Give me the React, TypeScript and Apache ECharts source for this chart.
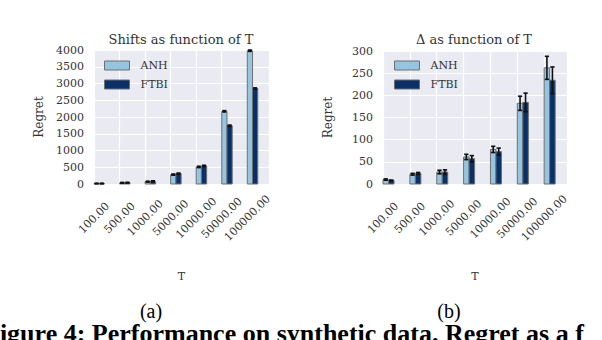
import React, { useEffect, useRef } from 'react';
import * as echarts from 'echarts';

const categories = ['100.00', '500.00', '1000.00', '5000.00', '10000.00', '50000.00', '100000.00'];
const seriesNames = ['ANH', 'FTBI'];

const shiftsANH = [15, 35, 70, 280, 510, 2170, 3980];
const shiftsANHErr = [10, 12, 15, 18, 20, 20, 20];
const shiftsFTBI = [15, 40, 80, 310, 540, 1740, 2850];
const shiftsFTBIErr = [10, 12, 15, 18, 20, 20, 20];

const deltaANH = [10, 22, 27, 61, 78, 182, 262];
const deltaANHErr = [1.5, 2, 4, 6, 7, 16, 26];
const deltaFTBI = [8, 24, 27, 57, 73, 184, 234];
const deltaFTBIErr = [1, 2, 5, 7, 8, 21, 30];

const titles = ['Shifts as function of T', 'Δ as function of T'];
const yMax = [4000, 300];
const yInterval = [500, 50];
const captions = ['(a)', '(b)'];
const figureCaption = 'Figure 4: Performance on synthetic data. Regret as a f';

const COLORS = ['#96c5e0', '#08306b'];
const BAR_W = 0.205;
const SERIF = 'DejaVu Serif';

function barRender(offset: number, color: string) {
  return (params: any, api: any) => {
    const x = api.value(0);
    const y = api.value(1);
    const p0 = api.coord([x + offset, y]);
    const p1 = api.coord([x + offset + BAR_W, 0]);
    return {
      type: 'rect',
      shape: { x: p0[0], y: p0[1], width: p1[0] - p0[0], height: p1[1] - p0[1] },
      style: { fill: color, stroke: '#6f6f6f', lineWidth: 1 },
    };
  };
}

function errRender(offset: number) {
  return (params: any, api: any) => {
    const x = api.value(0) + offset + BAR_W / 2;
    const y = api.value(1);
    const e = api.value(2);
    const top = api.coord([x, y + e]);
    const bot = api.coord([x, y - e]);
    const capL = api.coord([x - 0.08, y])[0];
    const capR = api.coord([x + 0.08, y])[0];
    const st = { stroke: '#111', lineWidth: 1.6 };
    return {
      type: 'group',
      children: [
        { type: 'line', shape: { x1: top[0], y1: top[1], x2: bot[0], y2: bot[1] }, style: st },
        { type: 'line', shape: { x1: capL, y1: top[1], x2: capR, y2: top[1] }, style: st },
        { type: 'line', shape: { x1: capL, y1: bot[1], x2: capR, y2: bot[1] }, style: st },
      ],
    };
  };
}

export default function App() {
  const ref = useRef<HTMLDivElement>(null);
  useEffect(() => {
    if (!ref.current) return;
    const chart = echarts.init(ref.current, null, { renderer: 'svg' });
    const grids = [
      { left: 94, top: 50, width: 175, height: 134 },
      { left: 383, top: 51, width: 184, height: 133 },
    ];
    const data = [
      [shiftsANH, shiftsANHErr, shiftsFTBI, shiftsFTBIErr],
      [deltaANH, deltaANHErr, deltaFTBI, deltaFTBIErr],
    ];
    const xAxis: any[] = [];
    const yAxis: any[] = [];
    const series: any[] = [];
    const legends: any[] = [];
    const graphics: any[] = [];
    const titleX = [181, 474];
    const legendX = [104, 394];
    for (let g = 0; g < 2; g++) {
      xAxis.push({
        type: 'value',
        gridIndex: g,
        min: 0,
        max: 6.85,
        interval: 1,
        name: 'T',
        nameLocation: 'middle',
        nameGap: 87,
        nameTextStyle: { fontFamily: SERIF, fontSize: 11, color: '#333' },
        axisLine: { show: false },
        axisTick: { show: false },
        splitLine: { show: true, lineStyle: { color: '#ffffff', width: 1.2 } },
        axisLabel: {
          rotate: 45,
          align: 'center',
          verticalAlign: 'middle',
          margin: 34,
          fontFamily: SERIF,
          fontSize: 11,
          color: '#333',
          showMaxLabel: false,
          formatter: (v: number) => {
            const i = Math.round(v);
            return Math.abs(v - i) < 1e-6 && categories[i] ? categories[i] : '';
          },
        },
      });
      yAxis.push({
        type: 'value',
        gridIndex: g,
        min: 0,
        max: yMax[g],
        interval: yInterval[g],
        name: 'Regret',
        nameLocation: 'middle',
        nameGap: 49,
        nameTextStyle: { fontFamily: SERIF, fontSize: 12, color: '#333' },
        axisLine: { show: false },
        axisTick: { show: false },
        splitLine: { show: true, lineStyle: { color: '#ffffff', width: 1.2 } },
        axisLabel: {
          margin: 10,
          fontFamily: SERIF,
          fontSize: 11,
          color: '#333',
          formatter: (v: number) => String(v),
        },
      });
      const [a, ae, f, fe] = data[g];
      const vals = [
        [a, ae],
        [f, fe],
      ];
      for (let s = 0; s < 2; s++) {
        const arr = vals[s][0].map((v, i) => [i, v, vals[s][1][i]]);
        series.push({
          type: 'custom',
          name: seriesNames[s],
          xAxisIndex: g,
          yAxisIndex: g,
          itemStyle: { color: COLORS[s], borderColor: '#6f6f6f', borderWidth: 1 },
          encode: { x: 0, y: 1 },
          renderItem: barRender(s * BAR_W, COLORS[s]),
          data: arr,
          clip: false,
        });
      }
      for (let s = 0; s < 2; s++) {
        const arr = vals[s][0].map((v, i) => [i, v, vals[s][1][i]]);
        series.push({
          type: 'custom',
          name: seriesNames[s] + ' error',
          xAxisIndex: g,
          yAxisIndex: g,
          encode: { x: 0, y: 1 },
          renderItem: errRender(s * BAR_W),
          data: arr,
          z: 5,
        });
      }
      legends.push({
        data: seriesNames,
        orient: 'vertical',
        left: legendX[g],
        top: 59,
        padding: 0,
        itemWidth: 25,
        itemHeight: 9,
        itemGap: 6,
        icon: 'rect',
        selectedMode: false,
        itemStyle: { borderColor: '#6f6f6f', borderWidth: 1 },
        textStyle: { fontFamily: SERIF, fontSize: 11, color: '#333', lineHeight: 13, padding: [0, 0, 0, 6] },
      });
      graphics.push({
        type: 'text',
        x: titleX[g],
        y: 39,
        style: {
          text: titles[g],
          align: 'center',
          verticalAlign: 'middle',
          font: `13px "${SERIF}"`,
          fill: '#333',
        },
      });
      graphics.push({
        type: 'text',
        x: [151, 449][g],
        y: 311,
        style: {
          text: captions[g],
          align: 'center',
          verticalAlign: 'middle',
          font: '20px "Liberation Serif"',
          fill: '#000',
        },
      });
    }
    graphics.push({
      type: 'text',
      x: -16,
      y: 320,
      style: {
        text: figureCaption,
        align: 'left',
        verticalAlign: 'top',
        font: 'bold 26px "Liberation Serif"',
        fill: '#000',
      },
    });
    chart.setOption({
      animation: false,
      backgroundColor: '#ffffff',
      grid: grids.map((g) => ({ ...g, backgroundColor: '#eaeaf2', show: true, borderWidth: 0 })),
      xAxis,
      yAxis,
      legend: legends,
      series,
      graphic: graphics,
    });
    return () => chart.dispose();
  }, []);
  return (
    <div
      ref={ref}
      style={{ position: 'absolute', left: 0, top: 0, width: 602, height: 340 }}
    />
  );
}
